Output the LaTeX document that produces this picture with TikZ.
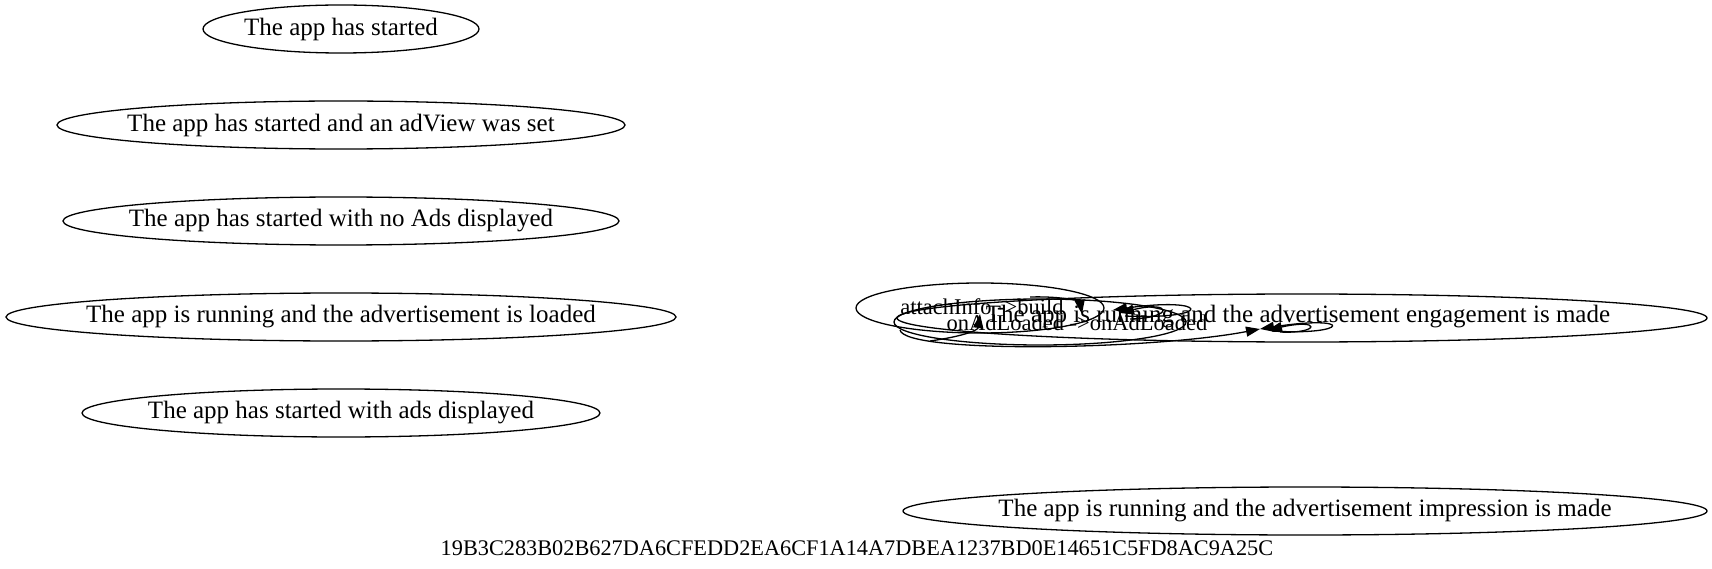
\documentclass[tikz,border=0pt]{standalone}
\usepackage{fontspec}
\setmainfont{Liberation Serif}
\usetikzlibrary{shapes.geometric,arrows.meta}
\tikzset{
  lbl/.style={inner sep=0pt, font=\fontsize{25}{29}\selectfont},
  elbl/.style={inner sep=0pt, font=\fontsize{22.5}{26}\selectfont},
  ring/.style={draw, line width=1.3pt},
  edge/.style={draw, line width=1.3pt, -{Triangle[length=14pt,width=10pt]}},
}
\begin{document}
\begin{tikzpicture}[x=1pt,y=-1pt]
\useasboundingbox (0,0) rectangle (1712,569);
% left column states
\node[lbl] (s1) at (341,29) {The app has started};
\node[lbl] (s2) at (341,125) {The app has started and an adView was set};
\node[lbl] (s3) at (341,221) {The app has started with no Ads displayed};
\node[lbl] (s4) at (341,317) {The app is running and the advertisement is loaded};
\node[lbl] (s5) at (341,413) {The app has started with ads displayed};
\node[lbl] (s7) at (1305,511) {The app is running and the advertisement impression is made};
\draw[ring] (s1.center) ellipse [x radius=138, y radius=24];
\draw[ring] (s2.center) ellipse [x radius=284, y radius=24];
\draw[ring] (s3.center) ellipse [x radius=278, y radius=24];
\draw[ring] (s4.center) ellipse [x radius=335, y radius=24];
\draw[ring] (s5.center) ellipse [x radius=259, y radius=24];
\draw[ring] (s7.center) ellipse [x radius=402, y radius=24];
% collapsed cluster
\node[lbl] (s6) at (1298,317) {The app is running and the advertisement engagement is made};
\node[elbl] (la) at (982,307) {attachInfo ->build};
\node[elbl] (lc) at (1077,323) {onAdLoaded ->onAdLoaded};
\coordinate (ea) at (980,308);
\coordinate (ec) at (1040,322);
\coordinate (eb) at (1302,318);
\draw[ring] (ea) ellipse [x radius=124, y radius=25];
\draw[ring] (ec) ellipse [x radius=146, y radius=23];
\draw[ring] (eb) ellipse [x radius=405, y radius=24];
% self loops and edges
\coordinate (p1) at (930,341);
\coordinate (q1) at (980,314);
\coordinate (p2) at (1030,297);
\coordinate (q2) at (1082,314);
\coordinate (p3) at (1125,316);
\coordinate (q3) at (1113,310);
\coordinate (p4) at (1130,319);
\coordinate (q4) at (1120,313);
\coordinate (p5) at (1272,331);
\coordinate (q5) at (1260,329);
\coordinate (p6) at (1280,332);
\coordinate (q6) at (1268,330);
\coordinate (p7) at (900,330);
\draw[edge] (p1) .. controls (965,336) and (978,330) .. (q1);
\draw[edge] (p2) .. controls (1065,296) and (1080,302) .. (q2);
\draw[edge] (p3) .. controls (1215,320) and (1210,296) .. (q3);
\draw[edge] (p4) .. controls (1175,318) and (1172,300) .. (q4);
\draw[edge] (p5) .. controls (1350,336) and (1355,314) .. (q5);
\draw[edge] (p6) .. controls (1320,334) and (1322,318) .. (q6);
\draw[edge] (p7) .. controls (905,354) and (1150,350) .. (q5);
\node[inner sep=0pt, font=\fontsize{22.3}{26}\selectfont] (cap) at (857,548) {19B3C283B02B627DA6CFEDD2EA6CF1A14A7DBEA1237BD0E14651C5FD8AC9A25C};
\end{tikzpicture}
\end{document}
